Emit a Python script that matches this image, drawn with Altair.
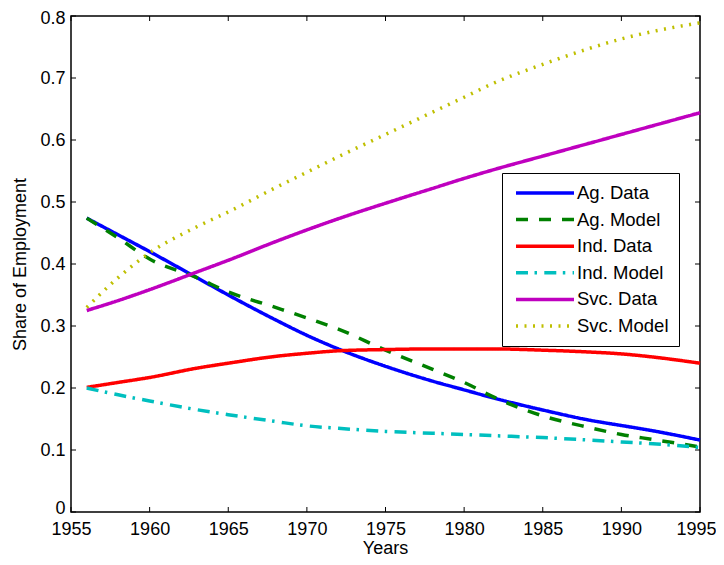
import altair as alt
import pandas as pd

years = [1956, 1958, 1960, 1963, 1965, 1968, 1970, 1972, 1975, 1978, 1980, 1982, 1985, 1988, 1990, 1992, 1995]

ag_data = [0.474, 0.447, 0.420, 0.378, 0.350, 0.310, 0.285, 0.263, 0.235, 0.211, 0.197, 0.183, 0.1645, 0.148, 0.1395, 0.131, 0.116]
ag_model = [0.474, 0.442, 0.408, 0.378, 0.355, 0.330, 0.313, 0.295, 0.261, 0.230, 0.209, 0.184, 0.155, 0.136, 0.125, 0.117, 0.105]
ind_data = [0.201, 0.209, 0.217, 0.232, 0.240, 0.251, 0.256, 0.260, 0.262, 0.263, 0.263, 0.263, 0.261, 0.258, 0.255, 0.250, 0.240]
ind_model = [0.200, 0.189, 0.179, 0.165, 0.157, 0.146, 0.139, 0.135, 0.130, 0.127, 0.125, 0.123, 0.120, 0.116, 0.113, 0.110, 0.104]
svc_data = [0.325, 0.341, 0.3586, 0.387, 0.406, 0.436, 0.455, 0.473, 0.498, 0.522, 0.538, 0.553, 0.574, 0.595, 0.609, 0.623, 0.644]
svc_model = [0.330, 0.378, 0.418, 0.460, 0.484, 0.523, 0.548, 0.573, 0.609, 0.645, 0.669, 0.693, 0.722, 0.748, 0.763, 0.775, 0.789]

series_names = ["Ag. Data", "Ag. Model", "Ind. Data", "Ind. Model", "Svc. Data", "Svc. Model"]
series_values = [ag_data, ag_model, ind_data, ind_model, svc_data, svc_model]
series_colors = ["#0000ff", "#008000", "#ff0000", "#00bfbf", "#bf00bf", "#bfbf00"]
series_dash = [[1, 0], [12, 11], [1, 0], [12, 6.5, 2.5, 7.3], [1, 0], [2, 6.5]]
series_width = [3.5, 3.5, 3.5, 3.5, 3.5, 1.5]

x_ticks = [1955, 1960, 1965, 1970, 1975, 1980, 1985, 1990, 1995]
y_ticks = [0, 0.1, 0.2, 0.3, 0.4, 0.5, 0.6, 0.7, 0.8]

W, H = 629, 496
FONT = "Liberation Sans"

rows = []
for name, vals in zip(series_names, series_values):
    for yr, v in zip(years, vals):
        rows.append({"year": yr, "share": v, "series": name})
df = pd.DataFrame(rows)

xscale = alt.Scale(domain=[1955, 1995], nice=False, zero=False)
yscale = alt.Scale(domain=[0, 0.8], nice=False)

lines = alt.Chart(df).mark_line(interpolate="monotone", strokeCap="butt").encode(
    x=alt.X("year:Q", scale=xscale, axis=alt.Axis(
        values=x_ticks, format="d", title="Years", ticks=False, domain=False, grid=False,
        labelFontSize=18, labelFont=FONT, labelColor="black", labelPadding=22,
        labelBaseline="alphabetic", labelFlush=False, labelOverlap=False,
        labelOffset={"condition": {"test": "datum.value == 1995", "value": -4}, "value": 0},
        titleFontSize=18, titleFont=FONT, titleFontWeight="normal", titleColor="black",
        titleX=314, titleY=41.2, titleBaseline="alphabetic")),
    y=alt.Y("share:Q", scale=yscale, axis=alt.Axis(
        values=y_ticks, format="~g", title="Share of Employment", ticks=False, domain=False, grid=False,
        labelFontSize=18, labelFont=FONT, labelColor="black", labelPadding=6,
        labelFlush=False, labelOverlap=False,
        labelOffset={"expr": "datum.value >= 0.79 ? 2 : (datum.value <= 0.01 ? -4 : 0)"},
        titleFontSize=18, titleFont=FONT, titleFontWeight="normal", titleColor="black",
        titleX=-45.5, titleY=248, titleAngle=270, titleBaseline="alphabetic")),
    color=alt.Color("series:N", scale=alt.Scale(domain=series_names, range=series_colors),
                    sort=series_names,
                    legend=alt.Legend(
                        title=None, orient="none", legendX=431, legendY=157,
                        symbolType="stroke", symbolSize=58 * 58, symbolStrokeWidth=3.5,
                        clipHeight=20, rowPadding=6.6, padding=10, symbolOffset=2, labelOffset=1,
                        labelFontSize=18.5, labelFont=FONT, labelColor="black",
                        strokeColor="black", fillColor="white")),
    strokeDash=alt.StrokeDash("series:N", scale=alt.Scale(domain=series_names, range=series_dash),
                              sort=series_names, legend=alt.Legend(title=None)),
    strokeWidth=alt.StrokeWidth("series:N", scale=alt.Scale(domain=series_names, range=series_width),
                                sort=series_names, legend=alt.Legend(title=None)),
)

xt = pd.DataFrame({"year": x_ticks})
yt = pd.DataFrame({"share": y_ticks})

xticks_bottom = alt.Chart(xt).mark_rule(color="black", strokeWidth=1).encode(
    x=alt.X("year:Q", scale=xscale), y=alt.value(H), y2=alt.value(H - 5))
xticks_top = alt.Chart(xt).mark_rule(color="black", strokeWidth=1).encode(
    x=alt.X("year:Q", scale=xscale), y=alt.value(0), y2=alt.value(5))
yticks_left = alt.Chart(yt).mark_rule(color="black", strokeWidth=1).encode(
    y=alt.Y("share:Q", scale=yscale), x=alt.value(0), x2=alt.value(5))
yticks_right = alt.Chart(yt).mark_rule(color="black", strokeWidth=1).encode(
    y=alt.Y("share:Q", scale=yscale), x=alt.value(W), x2=alt.value(W - 5))

chart = alt.layer(lines, xticks_bottom, xticks_top, yticks_left, yticks_right).properties(
    width=W, height=H,
    autosize=alt.AutoSizeParams(type="none"),
    padding={"left": 63, "top": 8, "right": 16, "bottom": 45},
    background="white",
).configure_view(stroke="black", strokeWidth=1.5)

chart.save("out.html", embed_options={"renderer": "svg", "actions": False})
